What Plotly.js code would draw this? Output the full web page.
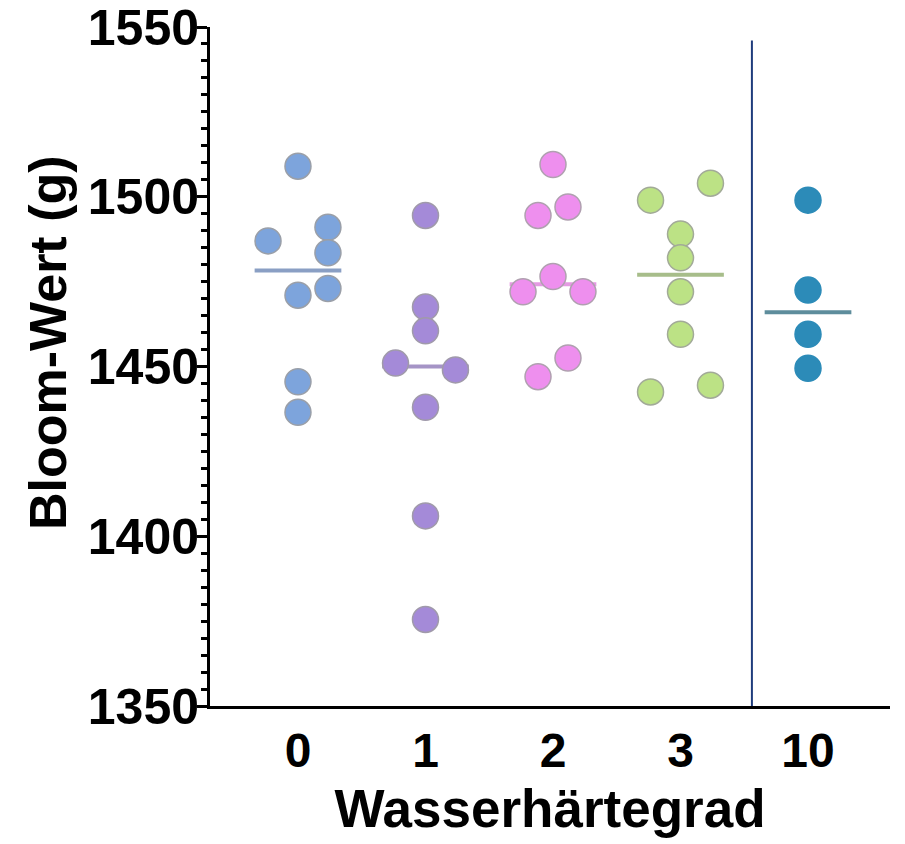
<!DOCTYPE html>
<html>
<head>
<meta charset="utf-8">
<script src="https://cdn.plot.ly/plotly-3.0.1.min.js"></script>
<style>html,body{margin:0;padding:0;background:#fff;}#chart{width:905px;height:844px;}</style>
</head>
<body>
<div id="chart"></div>
<script>
// Category labels (Wasserhärtegrad)
const categories = ['0', '1', '2', '3', '10'];

// Bloom values per group (g)
const values0  = [1509, 1487, 1491, 1483.5, 1471, 1473, 1445.5, 1436.5];
const values1  = [1494.5, 1467.5, 1460.5, 1451, 1449, 1438, 1406, 1375.5];
const values2  = [1509.5, 1494.5, 1497, 1476.5, 1472, 1472, 1452.5, 1447];
const values3  = [1499, 1504, 1489, 1482, 1472, 1459.5, 1442.5, 1444.5];
const values10 = [1499, 1472.5, 1459.5, 1449.5];

// horizontal column slot of each point within its group (scatter-dot layout)
const slots0  = [0, -1, 1, 1, 0, 1, 0, 0];
const slots1  = [0, 0, 0, -1, 1, 0, 0, 0];
const slots2  = [0, -0.5, 0.5, 0, -1, 1, 0.5, -0.5];
const slots3  = [-1, 1, 0, 0, 0, 0, -1, 1];
const slots10 = [0, 0, 0, 0];

const groups = [values0, values1, values2, values3, values10];
const slots = [slots0, slots1, slots2, slots3, slots10];

const fillColors = ['#7DA4DC', '#A48AD8', '#EE8FEE', '#BCE285', '#2C8BB8'];
const edgeColors = ['#9A9FA8', '#A09AAA', '#B0A0B0', '#A2AA98', '#2C8BB8'];
const medColors  = ['#8A9FC4', '#A594C6', '#E49AE2', '#A7BD8A', '#5E8D9C'];

const SLOT_W = 0.235;
const HALF_W = 0.34;

function median(a) {
  const s = a.slice().sort((x, y) => x - y);
  const n = s.length;
  return n % 2 ? s[(n - 1) / 2] : (s[n / 2 - 1] + s[n / 2]) / 2;
}

const traces = [];
groups.forEach((g, i) => {
  const m = median(g);
  traces.push({
    type: 'scatter', mode: 'lines',
    x: [i - HALF_W, i + HALF_W], y: [m, m],
    line: {color: medColors[i], width: 4},
    hoverinfo: 'skip', showlegend: false
  });
});
groups.forEach((g, i) => {
  traces.push({
    type: 'scatter', mode: 'markers',
    x: g.map((v, k) => i + slots[i][k] * SLOT_W), y: g,
    marker: {size: 26, color: fillColors[i], line: {color: edgeColors[i], width: 1.5}},
    showlegend: false
  });
});

const font = {family: 'Liberation Sans, Arial, sans-serif', color: '#000', weight: 700};

const layout = {
  width: 905, height: 844,
  paper_bgcolor: '#fff', plot_bgcolor: '#fff',
  margin: {l: 210, r: 15, t: 27, b: 138},
  showlegend: false,
  xaxis: {
    range: [-0.69, 4.643],
    tickvals: [0, 1, 2, 3, 4], ticktext: categories,
    showgrid: false, zeroline: false,
    showline: true, linecolor: '#000', linewidth: 3,
    ticks: '', ticklen: 0,
    tickfont: Object.assign({size: 48}, font),
    title: {text: 'Wasserhärtegrad', font: Object.assign({size: 53}, font), standoff: 15}
  },
  yaxis: {
    range: [1350, 1550],
    tickvals: [1350, 1400, 1450, 1500, 1550],
    showgrid: false, zeroline: false,
    showline: true, linecolor: '#000', linewidth: 3,
    ticks: 'outside', ticklen: 10, tickwidth: 3, tickcolor: '#000',
    minor: {dtick: 5, ticks: 'outside', ticklen: 6, tickwidth: 3, tickcolor: '#000', showgrid: false},
    ticklabeloverflow: 'allow',
    ticklabelstandoff: -12,
    tickfont: Object.assign({size: 50}, font)
  },
  annotations: [{
    text: 'Bloom-Wert (g)', textangle: -90, showarrow: false,
    xref: 'paper', yref: 'paper', x: 0, y: 0.5346,
    xanchor: 'center', yanchor: 'middle', xshift: -162,
    font: Object.assign({size: 52}, font)
  }],
  shapes: [{
    type: 'line', xref: 'x', yref: 'y',
    x0: 3.56, x1: 3.56, y0: 1350, y1: 1546,
    line: {color: '#1F3C7C', width: 2}
  }]
};

Plotly.newPlot('chart', traces, layout, {displayModeBar: false, staticPlot: true});
</script>
</body>
</html>
